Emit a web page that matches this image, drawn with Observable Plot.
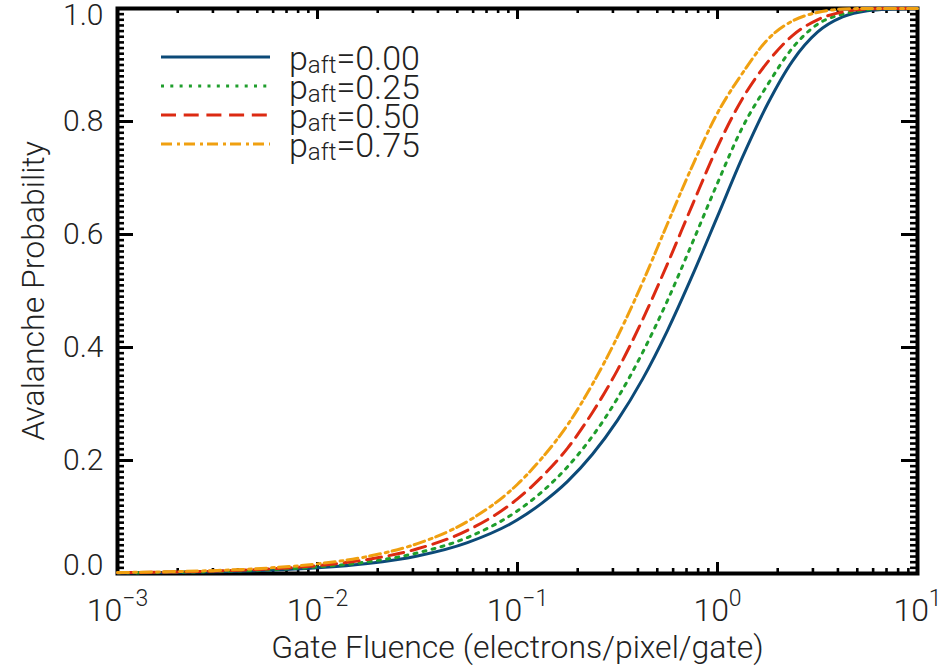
<!DOCTYPE html>
<html><head><meta charset="utf-8">
<script src="https://cdn.jsdelivr.net/npm/d3@7"></script>
<script src="https://cdn.jsdelivr.net/npm/@observablehq/plot@0.6"></script>
<style>
html,body{margin:0;padding:0;background:#fff;}
svg{display:block;}
</style></head>
<body><div id="chart"></div>
<script>
// ---- data ----
const fluence = [0.001, 0.00178, 0.00316, 0.00562, 0.01, 0.0178, 0.0316, 0.0562, 0.1, 0.133, 0.178, 0.237, 0.316, 0.422, 0.562, 0.75, 1.0, 1.33, 1.78, 2.37, 3.16, 4.22, 5.62, 7.5, 10];
const pAftLabels = ["0.00", "0.25", "0.50", "0.75"];
const prob000 = [0.001, 0.0018, 0.0032, 0.0056, 0.010, 0.0176, 0.031, 0.0547, 0.095, 0.125, 0.163, 0.211, 0.271, 0.344, 0.430, 0.528, 0.632, 0.736, 0.831, 0.907, 0.958, 0.985, 0.996, 0.999, 1.0];
const prob025 = [0.0012, 0.0021, 0.0037, 0.0066, 0.0117, 0.0207, 0.0365, 0.0637, 0.111, 0.145, 0.189, 0.243, 0.310, 0.391, 0.483, 0.586, 0.691, 0.789, 0.865, 0.930, 0.972, 0.990, 0.998, 1.0, 1.0];
const prob050 = [0.0014, 0.0025, 0.0045, 0.0079, 0.0140, 0.0248, 0.0437, 0.0763, 0.132, 0.172, 0.222, 0.285, 0.360, 0.449, 0.548, 0.653, 0.755, 0.840, 0.905, 0.952, 0.980, 0.994, 0.999, 1.0, 1.0];
const prob075 = [0.0017, 0.0031, 0.0054, 0.0096, 0.0170, 0.0301, 0.0529, 0.0921, 0.158, 0.205, 0.263, 0.335, 0.419, 0.515, 0.619, 0.722, 0.815, 0.885, 0.945, 0.978, 0.993, 0.999, 1.0, 1.0, 1.0];
const xTickValues = [1e-3, 1e-2, 1e-1, 1e0, 1e1];
const xTickLabels = ["10^-3", "10^-2", "10^-1", "10^0", "10^1"];
const yTickValues = [0, 0.2, 0.4, 0.6, 0.8, 1.0];
const yTickLabels = ["0.0", "0.2", "0.4", "0.6", "0.8", "1.0"];
const xTitle = "Gate Fluence (electrons/pixel/gate)";
const yTitle = "Avalanche Probability";

// ---- styles ----
const colors = ["#0c4a78", "#1f9e2c", "#dc2a12", "#f0a010"];
const dashes = [null, "3,6.3", "15,7.7", "11,5,3,4"];
const FONT = "Roboto, 'Liberation Sans', sans-serif";

const W = 941, H = 669, mt = 8, mb = 96, ml = 117, mr = 24;
const innerW = W - ml - mr, innerH = H - mt - mb;

const series = [prob000, prob025, prob050, prob075];
const rows = series.map((vals, i) => fluence.map((f, j) => ({p: pAftLabels[i], x: f, y: vals[j]})));

const xMinor = [];
for (const d of xTickValues.slice(0, -1)) for (let k = 2; k <= 9; k++) xMinor.push(d * k);
const yMinor = d3.range(0, 101).map(i => i / 100);

const tickStyle = {stroke: "black", strokeWidth: 2.6};
const yLab = yTickValues.map((v, i) => ({v, label: yTickLabels[i]}));
const labStyle = {fontSize: 30, fontWeight: 300, fill: "#222"};

const chart = Plot.plot({
  width: W, height: H,
  marginTop: mt, marginBottom: mb, marginLeft: ml, marginRight: mr,
  x: {type: "log", domain: [1e-3, 10], axis: null},
  y: {domain: [0, 1], axis: null},
  style: {fontFamily: FONT, background: "white", overflow: "visible"},
  marks: [
    Plot.tickX(xMinor, {x: d => d, insetTop: innerH - 5, ...tickStyle}),
    Plot.tickX(xMinor, {x: d => d, insetBottom: innerH - 5, ...tickStyle}),
    Plot.tickX(xTickValues, {x: d => d, insetTop: innerH - 11, ...tickStyle, strokeWidth: 3}),
    Plot.tickX(xTickValues, {x: d => d, insetBottom: innerH - 11, ...tickStyle, strokeWidth: 3}),
    Plot.tickY(yMinor, {y: d => d, insetRight: innerW - 7, ...tickStyle}),
    Plot.tickY(yMinor, {y: d => d, insetLeft: innerW - 7, ...tickStyle}),
    Plot.tickY(yTickValues, {y: d => d, insetRight: innerW - 16, ...tickStyle, strokeWidth: 3}),
    Plot.tickY(yTickValues, {y: d => d, insetLeft: innerW - 16, ...tickStyle, strokeWidth: 3}),
    Plot.frame({stroke: "black", strokeWidth: 4}),
    ...rows.map((r, i) => Plot.line(r, {
      x: "x", y: "y", stroke: colors[i], strokeWidth: 3,
      strokeDasharray: dashes[i] || undefined, curve: "monotone-x"
    })),
    // y tick labels (end labels sit inside the frame like the reference)
    Plot.text(yLab.filter(d => d.v > 0 && d.v < 1), {y: "v", text: "label", frameAnchor: "left", dx: -14, textAnchor: "end", ...labStyle}),
    Plot.text(yLab.filter(d => d.v === 0), {y: "v", text: "label", frameAnchor: "left", dx: -14, dy: -8, textAnchor: "end", ...labStyle}),
    Plot.text(yLab.filter(d => d.v === 1), {y: "v", text: "label", frameAnchor: "left", dx: -14, dy: 7, textAnchor: "end", ...labStyle}),
    Plot.text(xTickValues, {x: d => d, frameAnchor: "bottom", dy: 47, lineAnchor: "bottom", textAnchor: "middle",
      text: (d, i) => xTickLabels[i], fontSize: 32, fontWeight: 300, fill: "#222"}),
    Plot.text([xTitle], {text: d => d, frameAnchor: "bottom", dy: 84, lineAnchor: "bottom", textAnchor: "middle",
      fontSize: 32, fontWeight: 300, fill: "#222"}),
    Plot.text([yTitle], {text: d => d, frameAnchor: "left", dx: -74, rotate: -90, lineAnchor: "bottom", textAnchor: "middle",
      fontSize: 32, fontWeight: 300, fill: "#222"})
  ]
});

const svg = d3.select(chart);
// superscript exponents on x tick labels
svg.selectAll("text").each(function () {
  const t = d3.select(this);
  const s = t.text();
  if (!/^10\^/.test(s)) return;
  const [b, e] = s.split("^");
  t.text(null);
  t.append("tspan").text(b);
  t.append("tspan").attr("dy", -15).attr("font-size", 23).text(e.replace("-", "\u2212"));
});

// legend
const lg = svg.append("g").attr("font-family", FONT).attr("font-weight", 300).attr("fill", "#222").attr("text-anchor", "start");
pAftLabels.forEach((lab, i) => {
  const base = 70 + i * 29;
  lg.append("line").attr("x1", 161).attr("x2", 270).attr("y1", base - 13).attr("y2", base - 13)
    .attr("stroke", colors[i]).attr("stroke-width", 3)
    .attr("stroke-dasharray", dashes[i]);
  const t = lg.append("text").attr("x", 289).attr("y", base).attr("font-size", 34);
  t.append("tspan").text("p");
  t.append("tspan").attr("dy", 3).attr("font-size", 24).text("aft");
  t.append("tspan").attr("dy", -3).text("=" + lab);
});

document.getElementById("chart").appendChild(chart);
</script>
</body></html>
